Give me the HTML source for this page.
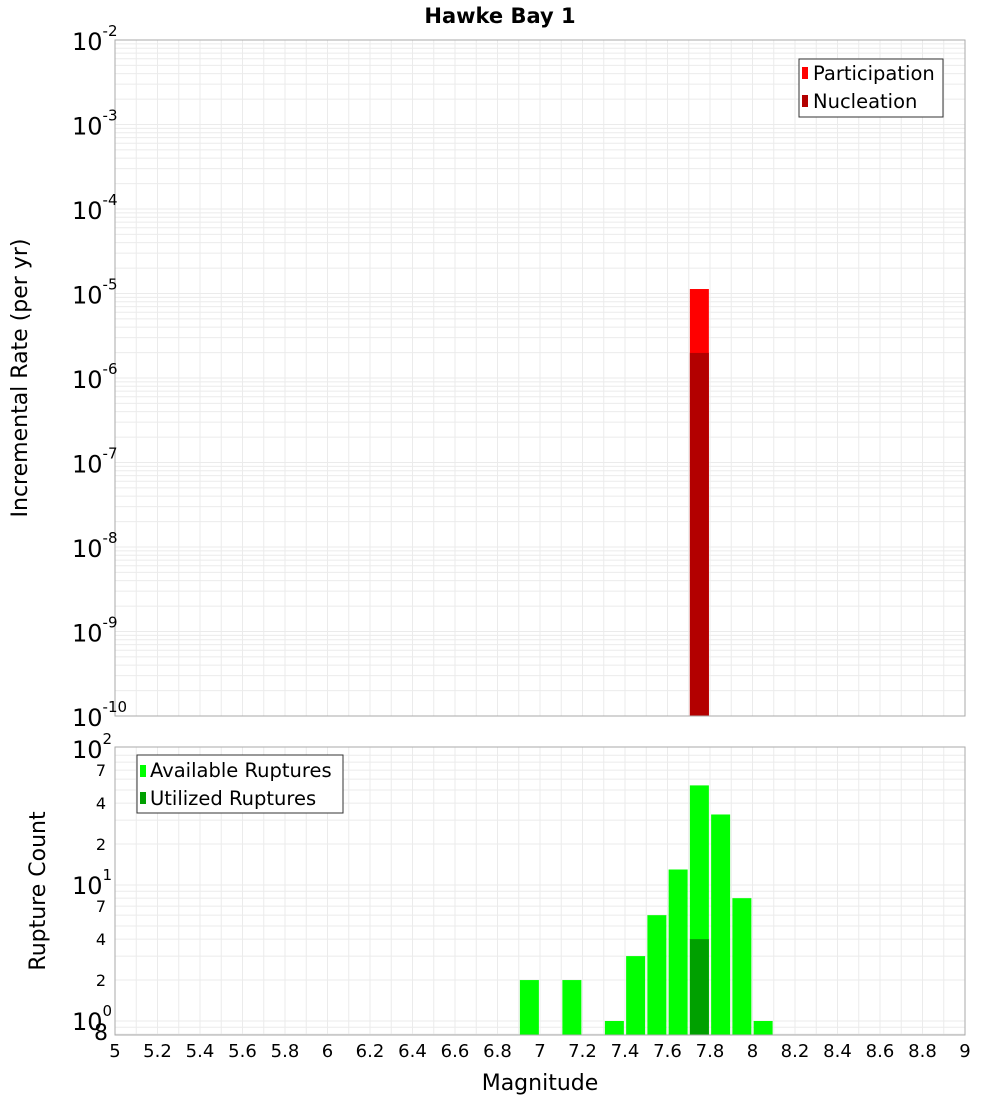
<!DOCTYPE html>
<html><head><meta charset="utf-8"><style>
body{margin:0;background:#fff;}
svg{font-family:"DejaVu Sans","Liberation Sans",sans-serif;}
</style></head><body>
<svg id="chart" width="1000" height="1100" xmlns="http://www.w3.org/2000/svg">
<text x="500" y="23" text-anchor="middle" font-size="21" font-weight="bold">Hawke Bay 1</text>
<g id="topPlot"></g>
<g id="botPlot"></g>
<text transform="translate(27,378) rotate(-90)" text-anchor="middle" font-size="22">Incremental Rate (per yr)</text>
<text transform="translate(45,891) rotate(-90)" text-anchor="middle" font-size="22">Rupture Count</text>
<text x="540" y="1090" text-anchor="middle" font-size="22">Magnitude</text>
<g>
<rect x="799" y="59" width="144" height="58" fill="#fff" stroke="#333"/>
<rect x="802" y="67" width="6" height="12" fill="#ff0000"/>
<text x="813" y="80" font-size="19.5">Participation</text>
<rect x="802" y="95" width="6" height="12" fill="#b30000"/>
<text x="813" y="108" font-size="19.5">Nucleation</text>
</g>
<g>
<rect x="137" y="755" width="206" height="58" fill="#fff" stroke="#333"/>
<rect x="140" y="765" width="6" height="12" fill="#00ff00"/>
<text x="150" y="777" font-size="19.5">Available Ruptures</text>
<rect x="140" y="792" width="6" height="12" fill="#00a000"/>
<text x="150" y="805" font-size="19.5">Utilized Ruptures</text>
</g>
</svg>
<script>
const partMags=[7.75];
const partRates=[1.13e-5];
const nuclMags=[7.75];
const nuclRates=[1.98e-6];
const availMags=[6.95,7.15,7.35,7.45,7.55,7.65,7.75,7.85,7.95,8.05];
const availCounts=[2,2,1,3,6,13,54,33,8,1];
const usedMags=[7.75];
const usedCounts=[4];
const xTicks=[5,5.2,5.4,5.6,5.8,6,6.2,6.4,6.6,6.8,7,7.2,7.4,7.6,7.8,8,8.2,8.4,8.6,8.8,9];

const NS='http://www.w3.org/2000/svg';
const X0=115,X1=965;
const xs=m=>X0+(m-5)/4*(X1-X0);
const T0=40,T1=716;
const yT=v=>T0+(-2-Math.log10(v))/8*(T1-T0);
const B0=747,B1=1035;
const yB=v=>1021-Math.log10(v)*136;
function mk(p,tag,a){const e=document.createElementNS(NS,tag);for(const k in a)e.setAttribute(k,a[k]);p.appendChild(e);return e;}
const gTop=document.getElementById('topPlot'),gBot=document.getElementById('botPlot');
mk(gTop,'rect',{x:X0,y:T0,width:X1-X0,height:T1-T0,fill:'#fff'});
mk(gBot,'rect',{x:X0,y:B0,width:X1-X0,height:B1-B0,fill:'#fff'});
for(let e=-10;e<-2;e++)for(let k=1;k<10;k++){const y=yT(k*Math.pow(10,e));
 const l=mk(gTop,'line',{x1:X0,x2:X1,y1:y,y2:y,stroke:'#ebebeb','stroke-width':1});
 
 }
for(let e=-1;e<2;e++)for(let k=1;k<10;k++){const v=k*Math.pow(10,e);const y=yB(v);if(y<B0||y>B1)continue;
 const l=mk(gBot,'line',{x1:X0,x2:X1,y1:y,y2:y,stroke:'#ebebeb','stroke-width':1});
 
 }
for(let i=0;i<=40;i++){const xx=X0+i*(X1-X0)/40;
 const a=mk(gTop,'line',{x1:xx,x2:xx,y1:T0,y2:T1,stroke:'#ebebeb'});
 
 
 const b=mk(gBot,'line',{x1:xx,x2:xx,y1:B0,y2:B1,stroke:'#ebebeb'});
 
 }
xTicks.forEach(t=>{const xx=xs(t);
 const tx=mk(gBot,'text',{x:xx,y:1057,'text-anchor':'middle','font-size':18});tx.textContent=String(t);
 
 });
const bw=19;
function bar(g,m,v,yf,base,fill,name){const y=yf(v);const r=mk(g,'rect',{x:xs(m)-bw/2,y:y,width:bw,height:base-y,fill:fill});
 
 }
partMags.forEach((m,i)=>bar(gTop,m,partRates[i],yT,T1,'#ff0000','participation-bar'));
nuclMags.forEach((m,i)=>bar(gTop,m,nuclRates[i],yT,T1,'#b30000','nucleation-bar'));
availMags.forEach((m,i)=>bar(gBot,m,availCounts[i],yB,B1,'#00ff00','available-bar'));
usedMags.forEach((m,i)=>bar(gBot,m,usedCounts[i],yB,B1,'#00a000','utilized-bar'));
mk(gTop,'rect',{x:X0,y:T0,width:X1-X0,height:T1-T0,fill:'none',stroke:'#aaa'});
mk(gBot,'rect',{x:X0,y:B0,width:X1-X0,height:B1-B0,fill:'none',stroke:'#aaa'});
for(let e=-10;e<=-2;e++){const y=yT(Math.pow(10,e));
 const t=mk(gTop,'text',{x:72,y:y+10,'font-size':24});t.textContent='10';
 
 
 const s=mk(t,'tspan',{dy:-14,'font-size':15});s.textContent=String(e);}
[[100,'2'],[10,'1'],[1,'0']].forEach(([v,e])=>{const y=yB(v);
 const t=mk(gBot,'text',{x:72,y:y+9,'font-size':24});t.textContent='10';
 
 
 const s=mk(t,'tspan',{dy:-14,'font-size':15});s.textContent=e;});
[70,40,20,7,4,2,0.8].forEach(v=>{const y=yB(v);
 const t=mk(gBot,'text',{x:v===0.8?108:106,y:y+6,'text-anchor':'end','font-size':v===0.8?22:16});
 t.textContent=String(v===0.8?8:(v>=10?v/10:v));
 
 });
</script>
</body></html>
